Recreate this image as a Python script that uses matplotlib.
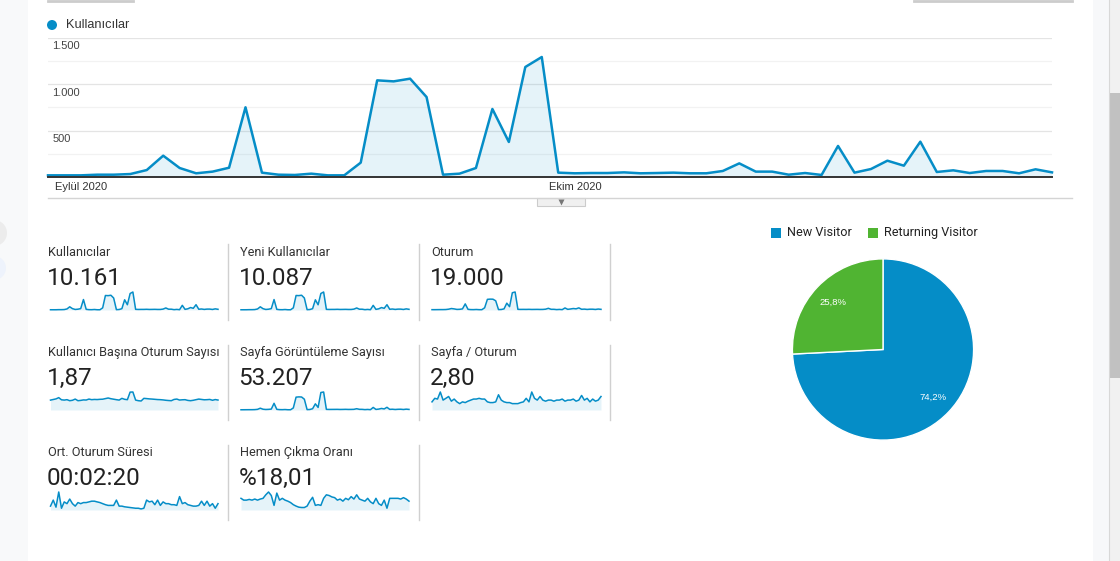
import numpy as np
import matplotlib.pyplot as plt
from matplotlib.patches import Rectangle, Circle

# --- veriler (Eylül 1 - Kasım 1, günlük) ---
users = [18, 18, 18, 25, 25, 32, 75, 230, 97, 40, 58, 100, 752, 47, 25, 22, 36, 18, 18, 155,
         1043, 1032, 1061, 863, 25, 36, 97, 734, 378, 1187, 1295, 47, 40, 43, 43, 50, 40, 43, 47, 40,
         40, 65, 147, 58, 58, 25, 43, 22, 335, 47, 86, 176, 122, 381, 54, 72, 43, 65, 65, 40, 83, 50]
new_users = [17, 17, 18, 24, 24, 31, 73, 228, 95, 39, 57, 98, 748, 46, 24, 21, 35, 17, 17, 153,
             1040, 1030, 1058, 860, 24, 35, 95, 730, 375, 1183, 1290, 46, 39, 42, 42, 49, 39, 42, 46, 39,
             39, 63, 145, 57, 57, 24, 42, 21, 332, 46, 84, 174, 120, 378, 53, 70, 42, 63, 63, 39, 81, 49]
sessions = [45, 45, 50, 55, 55, 65, 110, 200, 150, 80, 95, 150, 830, 90, 55, 50, 70, 45, 45, 300,
            1450, 1480, 1470, 1250, 60, 70, 150, 930, 450, 2350, 2450, 90, 80, 85, 80, 90, 75, 80, 85, 75,
            80, 110, 230, 95, 95, 55, 80, 50, 280, 90, 140, 200, 160, 290, 100, 120, 80, 110, 110, 75, 130, 90]
pageviews = [90, 100, 110, 120, 120, 150, 250, 700, 300, 200, 250, 350, 2600, 250, 150, 130, 180, 100, 100, 800,
             5000, 5100, 5050, 4200, 150, 200, 500, 2400, 1000, 6800, 7000, 250, 220, 230, 240, 250, 210, 230, 260, 220,
             230, 260, 500, 260, 250, 150, 220, 130, 1000, 230, 350, 600, 420, 1050, 250, 300, 200, 280, 300, 200, 330, 230]
sess_per_user = [1.65, 1.75, 1.85, 2.06, 1.70, 1.65, 1.72, 1.55, 1.62, 1.82, 1.55, 1.60, 1.68, 1.66, 1.82, 1.72,
                 1.76, 1.74, 1.78, 1.80, 1.90, 2.00, 1.88, 1.80, 1.72, 1.65, 1.94, 1.78, 1.72, 2.98, 3.00, 1.65,
                 1.55, 1.50, 1.94, 1.90, 1.85, 1.82, 1.78, 1.74, 1.72, 1.68, 1.62, 1.58, 1.55, 1.76, 1.82, 1.66,
                 1.70, 1.72, 1.60, 1.55, 1.62, 1.72, 1.82, 1.76, 1.70, 1.72, 1.76, 1.62, 1.74, 1.66]
pages_per_sess = [2.35, 3.37, 3.16, 5.2, 2.86, 3.37, 3.9, 2.55, 3.16, 2.35, 1.84, 2.35, 2.14, 2.55, 2.86, 3.16,
                  3.16, 3.37, 3.16, 3.16, 2.35, 2.14, 2.14, 2.35, 4.4, 2.86, 2.35, 2.14, 2.14, 1.84, 1.84, 1.84,
                  2.14, 2.35, 3.37, 2.35, 5.2, 3.37, 2.86, 3.9, 2.86, 2.55, 2.86, 2.86, 2.55, 2.86, 2.86, 3.16,
                  2.55, 2.86, 2.86, 3.16, 2.55, 2.86, 4.2, 2.86, 3.37, 2.35, 3.16, 2.55, 2.86, 3.9]
avg_dur = [86, 220, 63, 400, 39, 180, 141, 243, 141, 86, 165, 141, 165, 165, 180, 196, 196, 180, 165, 141,
           118, 102, 102, 102, 220, 86, 86, 71, 63, 55, 47, 39, 39, 24, 39, 220, 180, 196, 118, 220,
           102, 180, 141, 141, 118, 118, 102, 298, 141, 165, 118, 102, 86, 86, 102, 196, 102, 196, 86, 141, 39, 141]
bounce = [21.5, 18.2, 18.2, 19.5, 18.2, 20.2, 18.2, 20.2, 21.5, 28.0, 33.2, 26.7, 8.5, 31.2, 18.2, 21.5,
          18.2, 16.3, 13.7, 9.8, 7.2, 5.2, 4.6, 4.6, 7.2, 16.3, 23.4, 8.5, 9.8, 8.5, 21.5, 28.0,
          26.7, 24.1, 22.8, 18.2, 20.2, 16.3, 21.5, 18.9, 24.7, 20.2, 28.0, 20.2, 18.2, 16.3, 21.5, 15.0,
          11.7, 21.5, 11.7, 8.5, 18.2, 3.3, 21.5, 21.5, 21.5, 21.5, 20.2, 22.8, 20.2, 16.3]

ytick_vals = [500, 1000, 1500]
ytick_labels = ['500', '1.000', '1.500']
month_idx = [0, 30]
month_labels = ['Eylül 2020', 'Ekim 2020']

tile_titles = ['Kullanıcılar', 'Yeni Kullanıcılar', 'Oturum',
               'Kullanıcı Başına Oturum Sayısı', 'Sayfa Görüntüleme Sayısı', 'Sayfa / Oturum',
               'Ort. Oturum Süresi', 'Hemen Çıkma Oranı']
tile_values = ['10.161', '10.087', '19.000', '1,87', '53.207', '2,80', '00:02:20', '%18,01']
tile_series = [users, new_users, sessions, sess_per_user, pageviews, pages_per_sess, avg_dur, bounce]

pie_labels = ['New Visitor', 'Returning Visitor']
pie_values = [74.2, 25.8]

BLUE = '#058dc7'
GREEN = '#50b432'
W, H = 1120, 561

fig = plt.figure(figsize=(11.2, 5.61), dpi=100)
bg = fig.add_axes([0, 0, 1, 1])
bg.set_xlim(0, W)
bg.set_ylim(H, 0)
bg.axis('off')


def px_axes(x0, y0, x1, y1):
    return fig.add_axes([x0 / W, 1 - y1 / H, (x1 - x0) / W, (y1 - y0) / H])


# sayfa kenarlari
bg.add_patch(Rectangle((0, 0), 28, H, color='#f8f9fa', lw=0))
bg.add_patch(Circle((-6, 233), 13, color='#ececec', lw=0))
bg.add_patch(Circle((-6, 268), 12, color='#eef3fc', lw=0))
bg.add_patch(Rectangle((1093, 0), 16, H, color='#f7f8fa', lw=0))
bg.add_patch(Rectangle((1109, 0), 11, H, color='#f1f1f1', lw=0))
bg.plot([1109, 1109], [0, H], color='#d8d8d8', lw=0.8)
bg.add_patch(Rectangle((1109, 93), 11, 285, color='#c1c1c1', lw=0))
bg.plot([48, 133], [0.5, 0.5], color='#cccccc', lw=2)
bg.plot([914, 1072], [0.5, 0.5], color='#cccccc', lw=2)

# ana grafik
bg.add_patch(Circle((52, 25), 5, color=BLUE, lw=0))
bg.text(66, 25, 'Kullanıcılar', va='center', ha='left', fontsize=9.2,
        color='#333333', family='Liberation Sans')

ax = px_axes(48, 38, 1052, 177)
x = np.arange(len(users))
ax.fill_between(x, users, color=BLUE, alpha=0.1, lw=0)
ax.plot(x, users, color=BLUE, lw=1.8, clip_on=False)
ax.set_xlim(0, len(users) - 1)
ax.set_ylim(0, 1500)
ax.set_yticks(ytick_vals)
ax.set_yticks([250, 750, 1250], minor=True)
ax.grid(axis='y', which='major', color='#e4e4e4', lw=0.9)
ax.grid(axis='y', which='minor', color='#f2f2f2', lw=0.9)
ax.tick_params(which='both', left=False, bottom=False, labelleft=False, labelbottom=False)
for s in ['top', 'left', 'right']:
    ax.spines[s].set_visible(False)
ax.spines['bottom'].set_color('#333333')
ax.spines['bottom'].set_linewidth(1.4)
ax.set_axisbelow(True)
for v, lbl in zip(ytick_vals, ytick_labels):
    ax.annotate(lbl, xy=(0, v), xycoords=('axes fraction', 'data'), xytext=(3, -6),
                textcoords='offset points', va='center', ha='left', fontsize=8,
                color='#444444', family='Liberation Sans')
for i, lbl in zip(month_idx, month_labels):
    ax.annotate(lbl, xy=(i, 0), xycoords='data', xytext=(5, -7.5),
                textcoords='offset points', va='center', ha='left', fontsize=8,
                color='#333333', family='Liberation Sans', annotation_clip=False)

bg.plot([48, 1072], [198, 198], color='#d4d4d4', lw=1)
bg.add_patch(Rectangle((537, 198), 48, 8, facecolor='#f0f0f0', edgecolor='#cccccc', lw=0.8))
bg.plot([561], [201.5], marker='v', ms=4, color='#777777', mec='none')

# metrik kutulari
col_x = [48, 239.5, 431]
spark_x = [(50.5, 218), (241, 409), (432, 601)]
row_title_y = [252, 352, 452]
row_value_y = [278, 378, 478]
row_spark_y = [(292, 310), (392, 410), (492, 510)]
row_sep_y = [(244, 320), (345, 420), (445, 520)]
sep_x = [228, 419, 610]

for k, (title, val, ser) in enumerate(zip(tile_titles, tile_values, tile_series)):
    r, c = divmod(k, 3)
    bg.text(col_x[c], row_title_y[r], title, va='center', ha='left', fontsize=9.2,
            color='#333333', family='Roboto')
    bg.text(col_x[c] - 1, row_value_y[r], val, va='center', ha='left', fontsize=17.5,
            color='#222222', family='Roboto')
    sx0, sx1 = spark_x[c]
    sy0, sy1 = row_spark_y[r]
    sa = px_axes(sx0, sy0, sx1, sy1)
    xs = np.arange(len(ser))
    sa.fill_between(xs, ser, color=BLUE, alpha=0.1, lw=0)
    sa.plot(xs, ser, color=BLUE, lw=1.1, clip_on=False)
    sa.set_xlim(0, len(ser) - 1)
    sa.set_ylim(0, max(ser))
    sa.axis('off')

for r in range(3):
    for sx in sep_x:
        if r == 2 and sx == 610:
            continue
        bg.plot([sx, sx], row_sep_y[r], color='#d0d0d0', lw=1)

# pasta grafik
pax = px_axes(791, 258, 975, 441)
pax.pie(pie_values, colors=[BLUE, GREEN], startangle=90, counterclock=False,
        wedgeprops=dict(edgecolor='white', linewidth=1),
        autopct=lambda p: f'{p:.1f}%'.replace('.', ','), pctdistance=0.76,
        textprops=dict(color='white', fontsize=6.8, family='Liberation Sans'))
pax.set_xlim(-1.01, 1.01)
pax.set_ylim(-1.01, 1.01)
pax.set_aspect('equal')

leg_x = [771, 868]
for lx, lbl, col in zip(leg_x, pie_labels, [BLUE, GREEN]):
    bg.add_patch(Rectangle((lx, 227.5), 10, 10, color=col, lw=0))
    bg.text(lx + 16, 232.5, lbl, va='center', ha='left', fontsize=9.1,
            color='#222222', family='Roboto')

fig.savefig('out.png', dpi=100)
